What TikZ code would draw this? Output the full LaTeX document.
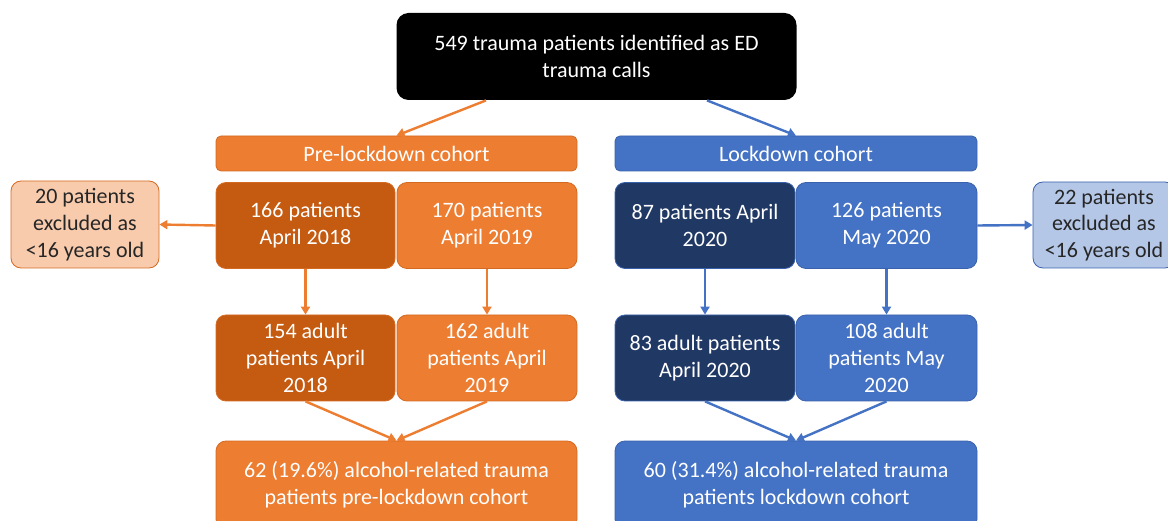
\documentclass[tikz,border=0pt]{standalone}
\usepackage{fontspec}
\setmainfont{Carlito}
\usetikzlibrary{arrows.meta}
\definecolor{ora}{HTML}{ED7D31}
\definecolor{oradk}{HTML}{C55A11}
\definecolor{oralt}{HTML}{F8CBAD}
\definecolor{oraln}{HTML}{D46A22}
\definecolor{blu}{HTML}{4472C4}
\definecolor{bludk}{HTML}{203864}
\definecolor{blult}{HTML}{B4C7E7}
\definecolor{bluln}{HTML}{3A62AC}
\begin{document}
\begin{tikzpicture}[x=1pt,y=-1pt,
  box/.style={rectangle, rounded corners=10pt, align=center, inner sep=0pt,
    font=\fontsize{22}{26.8}\selectfont, text=white, line width=0.8pt},
  obox/.style={box, fill=ora, draw=oraln},
  odbox/.style={box, fill=oradk, draw=oraln},
  olbox/.style={box, fill=oralt, draw=oraln, text=black!85},
  bbox/.style={box, fill=blu, draw=bluln},
  bdbox/.style={box, fill=bludk, draw=bluln},
  blbox/.style={box, fill=blult, draw=bluln, text=black!85},
  oarr/.style={draw=ora, line width=2.4pt, -{Triangle[length=8pt,width=9pt]}},
  barr/.style={draw=blu, line width=2.4pt, -{Triangle[length=8pt,width=9pt]}}]
\useasboundingbox (0,0) rectangle (1168,521);
\node[box, fill=black, rounded corners=12pt, minimum width=400pt, minimum height=87pt] (top) at (596.5,56.5) {549 trauma patients identified as ED\\trauma calls};
\node[obox, rounded corners=5pt, minimum width=361pt, minimum height=35pt] (pre) at (396.5,153.5) {Pre-lockdown cohort};
\node[bbox, rounded corners=5pt, minimum width=362pt, minimum height=35pt] (lock) at (796,153.5) {Lockdown cohort};
\node[odbox, minimum width=179pt, minimum height=86pt] (a166) at (305.5,225.5) {166 patients\\April 2018};
\node[obox, minimum width=180pt, minimum height=86pt] (a170) at (487,225.5) {170 patients\\April 2019};
\node[bdbox, minimum width=180pt, minimum height=86pt] (a87) at (705,225.5) {87 patients April\\2020};
\node[bbox, minimum width=181pt, minimum height=86pt] (a126) at (886.5,225.5) {126 patients\\May 2020};
\node[olbox, minimum width=148pt, minimum height=87pt] (ex20) at (85,224.5) {20 patients\\excluded as\\<16 years old};
\node[blbox, minimum width=142pt, minimum height=86pt] (ex22) at (1104,225) {22 patients\\excluded as\\<16 years old};
\node[odbox, minimum width=179pt, minimum height=86pt] (b154) at (305.5,358) {154 adult\\patients April\\2018};
\node[obox, minimum width=180pt, minimum height=86pt] (b162) at (487,358) {162 adult\\patients April\\2019};
\node[bdbox, minimum width=180pt, minimum height=86pt] (b83) at (705,358) {83 adult patients\\April 2020};
\node[bbox, minimum width=181pt, minimum height=86pt] (b108) at (886.5,358) {108 adult\\patients May\\2020};
\node[obox, minimum width=361pt, minimum height=88pt] (c1) at (396.5,485) {62 (19.6\%) alcohol-related trauma\\patients pre-lockdown cohort};
\node[bbox, minimum width=362pt, minimum height=88pt] (c2) at (796,485) {60 (31.4\%) alcohol-related trauma\\patients lockdown cohort};
\draw[oarr] ([xshift=-110.5pt]top.south) -- (pre.north);
\draw[barr] ([xshift=110.5pt]top.south) -- (lock.north);
\draw[oarr] (a166.west) -- (ex20.east);
\draw[barr] (a126.east) -- (ex22.west);
\draw[oarr] (a166.south) -- (b154.north);
\draw[oarr] (a170.south) -- (b162.north);
\draw[barr] (a87.south) -- (b83.north);
\draw[barr] (a126.south) -- (b108.north);
\draw[oarr] (b154.south) -- (c1.north);
\draw[oarr] (b162.south) -- (c1.north);
\draw[barr] (b83.south) -- (c2.north);
\draw[barr] (b108.south) -- (c2.north);
\end{tikzpicture}
\end{document}
